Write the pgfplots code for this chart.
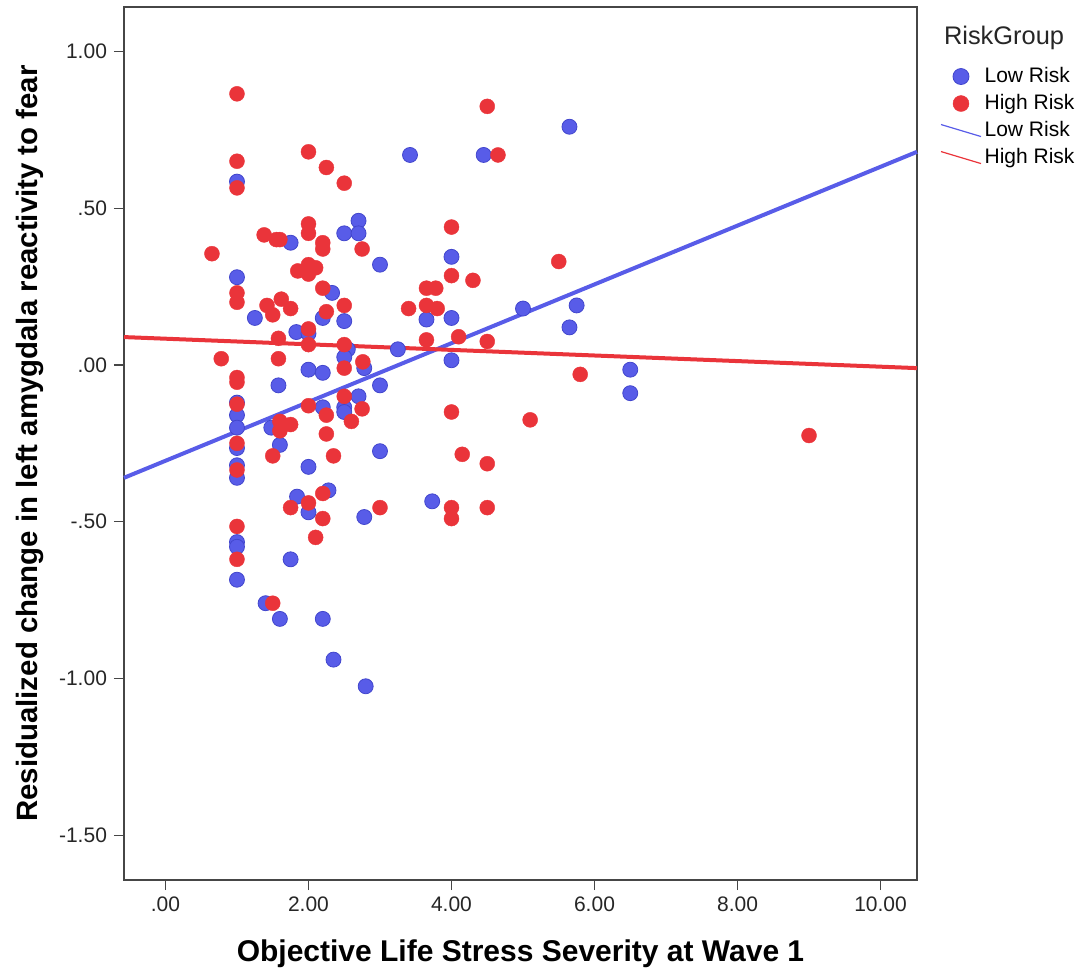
\documentclass[border=0pt]{standalone}
\usepackage{pgfplots}
\pgfplotsset{compat=1.18}
\usepackage{fontspec}
\setmainfont{Liberation Sans}
\definecolor{lowrisk}{RGB}{88,92,232}
\definecolor{lowriskedge}{RGB}{66,70,205}
\definecolor{highrisk}{RGB}{234,52,58}
\definecolor{framegray}{RGB}{70,70,70}
\begin{document}
\begin{tikzpicture}
\path[use as bounding box] (-62pt,-45.5pt) rectangle (477pt,440pt);
\begin{axis}[
at={(0,0)}, anchor=south west,
scale only axis,
width=396.5pt, height=436.5pt,
xmin=-0.58, xmax=10.51,
ymin=-1.643, ymax=1.142,
axis line style={framegray, line width=0.8pt},
xtick={0,2,4,6,8,10},
xticklabels={.00,2.00,4.00,6.00,8.00,10.00},
ytick={-1.5,-1,-0.5,0,0.5,1},
yticklabels={-1.50,-1.00,-.50,.00,.50,1.00},
xtick pos=bottom, ytick pos=left,
tick align=outside,
major tick length=5pt,
tick style={framegray, line width=0.6pt},
ticklabel style={font=\fontsize{10.5}{12}\selectfont, text=black!85},
xlabel={Objective Life Stress Severity at Wave 1},
ylabel={Residualized change in left amygdala reactivity to fear},
label style={font=\fontsize{15}{18}\selectfont\bfseries},
xlabel style={at={(axis description cs:0.5,-0.0939)}, anchor=base},
ylabel style={at={(axis description cs:-0.1097,0.5)}, anchor=base, font=\fontsize{14.7}{18}\selectfont\bfseries},
clip=false,
legend style={at={(rel axis cs:1,1)}, anchor=north west, xshift=11.5pt, yshift=-28.5pt,
  draw=none, fill=none, font=\fontsize{10.5}{12}\selectfont,
  row sep=1.4pt, inner sep=0pt, nodes={inner sep=1.5pt}},
legend cell align=left,
]
% Low Risk points
\addplot[only marks, mark=*, mark size=3.75pt, mark options={fill=lowrisk, draw=lowriskedge, line width=0.4pt},
  legend image code/.code={\draw[mark size=4pt] plot coordinates {(10pt,0pt)};}]
coordinates {
(1,0.585) (2.7,0.46) (2.5,0.42) (2.7,0.42) (1.75,0.39) (3,0.32) (1,0.28) (2.33,0.23)
(1.25,0.15) (2.2,0.15) (2.5,0.14) (1.83,0.105) (2,0.10) (2.55,0.05) (2.5,0.025)
(2.78,-0.01) (2,-0.015) (2.2,-0.025) (1.58,-0.065) (3,-0.065) (2.7,-0.10) (2.2,-0.135)
(2.5,-0.135) (2.5,-0.15) (1,-0.12) (1,-0.16) (1,-0.20) (1.48,-0.20) (1.6,-0.255)
(1,-0.265) (3,-0.275) (2,-0.325) (1,-0.32) (1,-0.36) (1.84,-0.42) (2.28,-0.40)
(2,-0.47) (2.78,-0.485) (1,-0.565) (1,-0.58) (1.75,-0.62) (1,-0.685) (1.4,-0.76)
(1.6,-0.81) (2.2,-0.81) (2.35,-0.94) (2.8,-1.025)
(3.42,0.67) (4.45,0.67) (4,0.345) (3.65,0.145) (4,0.15) (3.25,0.05) (4,0.015)
(5,0.18) (3.73,-0.435) (5.65,0.76) (5.75,0.19) (5.65,0.12) (6.5,-0.015) (6.5,-0.09)
};
\addlegendentry{Low Risk}
% High Risk points
\addplot[only marks, mark=*, mark size=3.75pt, mark options={fill=highrisk, draw=highrisk, line width=0.2pt},
  legend image code/.code={\draw[mark size=4pt] plot coordinates {(10pt,0pt)};}]
coordinates {
(1,0.865) (2,0.68) (1,0.65) (1,0.565) (2.25,0.63) (2.5,0.58) (2,0.45) (2,0.42)
(1.38,0.415) (1.55,0.40) (1.6,0.40) (2.2,0.39) (2.2,0.37) (0.65,0.355) (2.75,0.37)
(1,0.23) (1,0.20) (1.85,0.30) (2,0.32) (2.1,0.31) (2,0.29) (2.2,0.245) (1.42,0.19)
(1.62,0.21) (1.75,0.18) (1.5,0.16) (2.25,0.17) (2.5,0.19) (2,0.115) (1.58,0.085)
(2,0.065) (2.5,0.065) (0.78,0.02) (1.58,0.02) (2.76,0.01) (2.5,-0.01) (1,-0.04)
(1,-0.055) (2.5,-0.10) (2.75,-0.14) (2,-0.13) (2.25,-0.16) (2.6,-0.18) (1,-0.125)
(1.6,-0.18) (1.75,-0.19) (1.6,-0.21) (2.25,-0.22) (1,-0.25) (1.5,-0.29) (2.35,-0.29)
(1,-0.335) (2.2,-0.41) (2,-0.44) (1.75,-0.455) (2.2,-0.49) (2.1,-0.55) (3,-0.455)
(1,-0.515) (1,-0.62) (1.5,-0.76)
(4.5,0.825) (4.65,0.67) (4,0.44) (4,0.285) (4.3,0.27) (3.65,0.245) (3.78,0.245)
(3.4,0.18) (3.65,0.19) (3.8,0.18) (3.65,0.08) (4.1,0.09) (4.5,0.075) (4,-0.15)
(5.1,-0.175) (4.15,-0.285) (4.5,-0.315) (4,-0.455) (4,-0.49) (4.5,-0.455)
(5.5,0.33) (5.8,-0.03) (9,-0.225)
};
\addlegendentry{High Risk}
% Fit lines
\addplot[lowrisk, line width=2pt,
  legend image code/.code={\draw[line width=0.6pt] (0pt,3pt) -- (20pt,-3pt);}]
coordinates {(-0.58,-0.36) (10.51,0.68)};
\addlegendentry{Low Risk}
\addplot[highrisk, line width=2pt,
  legend image code/.code={\draw[line width=0.6pt] (0pt,3pt) -- (20pt,-3pt);}]
coordinates {(-0.58,0.089) (10.51,-0.01)};
\addlegendentry{High Risk}
\node[anchor=base west, font=\fontsize{12.7}{15}\selectfont, text=black!85]
  at (rel axis cs:1,1) [xshift=10pt, yshift=-19pt] {RiskGroup};
\end{axis}
\end{tikzpicture}
\end{document}
